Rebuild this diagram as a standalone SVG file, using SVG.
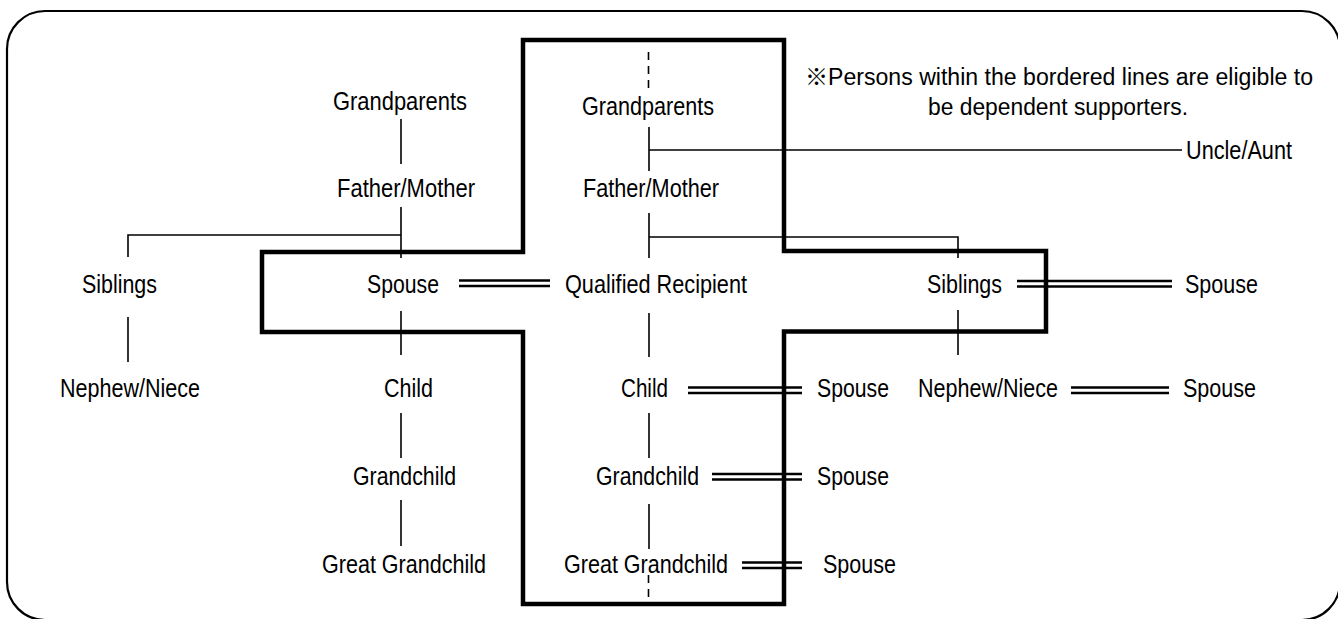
<svg xmlns="http://www.w3.org/2000/svg" width="1338" height="619" viewBox="0 0 1338 619">
<style>
text { font-family: "Liberation Sans", Arial, "Noto Sans CJK JP", sans-serif; font-size: 25.5px; fill: #000; }
text.note { font-size: 23px; }
.ln { stroke: #000; stroke-width: 1.6; fill: none; }
.dash { stroke: #000; stroke-width: 1.6; fill: none; stroke-dasharray: 8 6; }
.dbl { stroke: #000; stroke-width: 2.6; fill: none; }
.frame { stroke: #000; stroke-width: 2.2; fill: #fff; }
.cross { stroke: #000; stroke-width: 4.5; fill: none; stroke-linejoin: miter; }
</style>
<rect class="frame" x="7" y="11" width="1333" height="609" rx="38" ry="38"/>
<path id="border" class="cross" d="M523,40 H784 V251 H1046 V331.5 H784 V604 H523 V332 H262 V252 H523 Z"/>
<g id="connectors">
  <path class="ln" d="M401,119 V164"/>
  <path class="ln" d="M401,207 V258 M401,235 H128 V257"/>
  <path class="ln" d="M401,311 V355"/>
  <path class="ln" d="M401,413 V458"/>
  <path class="ln" d="M401,500 V546"/>
  <path class="ln" d="M128,317 V362"/>
  <path class="dash" d="M648.5,52 V90"/>
  <path class="ln" d="M649,127 V171 M649,150 H1182"/>
  <path class="ln" d="M649,213 V258 M649,237 H958 V258"/>
  <path class="ln" d="M649,313 V357"/>
  <path class="ln" d="M649,413 V458"/>
  <path class="ln" d="M649,504 V549"/>
  <path class="dash" d="M648.5,575 V597"/>
  <path class="ln" d="M958,310 V355"/>
  <path class="dbl" d="M459,280.5 H550 M459,286 H550"/>
  <path class="dbl" d="M1017,281 H1172 M1017,286.5 H1172"/>
  <path class="dbl" d="M688,387.5 H802 M688,393 H802"/>
  <path class="dbl" d="M712,474 H802 M712,479.5 H802"/>
  <path class="dbl" d="M742,562.5 H802 M742,568 H802"/>
  <path class="dbl" d="M1071,387.5 H1169 M1071,393 H1169"/>
</g>
<g id="note">
  <text class="note" x="805" y="85" textLength="508" lengthAdjust="spacingAndGlyphs">※Persons within the bordered lines are eligible to</text>
  <text class="note" x="928" y="115" textLength="260" lengthAdjust="spacingAndGlyphs">be dependent supporters.</text>
</g>
<g id="grandparents-left"><text x="333" y="110" textLength="134" lengthAdjust="spacingAndGlyphs">Grandparents</text></g>
<g id="father-mother-left"><text x="337" y="197" textLength="138" lengthAdjust="spacingAndGlyphs">Father/Mother</text></g>
<g id="siblings-left"><text x="82" y="293" textLength="75" lengthAdjust="spacingAndGlyphs">Siblings</text></g>
<g id="spouse-left"><text x="367" y="293" textLength="72" lengthAdjust="spacingAndGlyphs">Spouse</text></g>
<g id="nephew-left"><text x="60" y="397" textLength="140" lengthAdjust="spacingAndGlyphs">Nephew/Niece</text></g>
<g id="child-left"><text x="384" y="397" textLength="49" lengthAdjust="spacingAndGlyphs">Child</text></g>
<g id="grandchild-left"><text x="353" y="485" textLength="103" lengthAdjust="spacingAndGlyphs">Grandchild</text></g>
<g id="great-grandchild-left"><text x="322" y="573" textLength="164" lengthAdjust="spacingAndGlyphs">Great Grandchild</text></g>
<g id="grandparents"><text x="582" y="115" textLength="132" lengthAdjust="spacingAndGlyphs">Grandparents</text></g>
<g id="father-mother"><text x="583" y="197" textLength="136" lengthAdjust="spacingAndGlyphs">Father/Mother</text></g>
<g id="qualified-recipient"><text x="565" y="293" textLength="182" lengthAdjust="spacingAndGlyphs">Qualified Recipient</text></g>
<g id="child"><text x="621" y="397" textLength="47" lengthAdjust="spacingAndGlyphs">Child</text></g>
<g id="child-spouse"><text x="817" y="397" textLength="72" lengthAdjust="spacingAndGlyphs">Spouse</text></g>
<g id="grandchild"><text x="596" y="485" textLength="103" lengthAdjust="spacingAndGlyphs">Grandchild</text></g>
<g id="grandchild-spouse"><text x="817" y="485" textLength="72" lengthAdjust="spacingAndGlyphs">Spouse</text></g>
<g id="great-grandchild"><text x="564" y="573" textLength="164" lengthAdjust="spacingAndGlyphs">Great Grandchild</text></g>
<g id="great-grandchild-spouse"><text x="823" y="573" textLength="73" lengthAdjust="spacingAndGlyphs">Spouse</text></g>
<g id="uncle-aunt"><text x="1186" y="159" textLength="106" lengthAdjust="spacingAndGlyphs">Uncle/Aunt</text></g>
<g id="siblings"><text x="927" y="293" textLength="75" lengthAdjust="spacingAndGlyphs">Siblings</text></g>
<g id="siblings-spouse"><text x="1185" y="293" textLength="73" lengthAdjust="spacingAndGlyphs">Spouse</text></g>
<g id="nephew-niece"><text x="918" y="397" textLength="140" lengthAdjust="spacingAndGlyphs">Nephew/Niece</text></g>
<g id="nephew-spouse"><text x="1183" y="397" textLength="73" lengthAdjust="spacingAndGlyphs">Spouse</text></g>
</svg>
